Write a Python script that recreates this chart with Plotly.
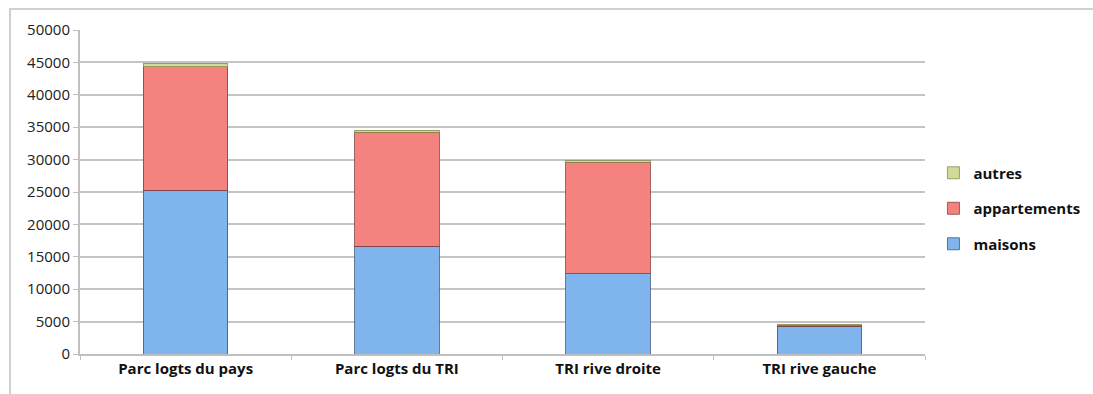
import plotly.graph_objects as go

# Housing stock by territory, split by dwelling type
categories = ["Parc logts du pays", "Parc logts du TRI", "TRI rive droite", "TRI rive gauche"]
maisons = [25300, 16600, 12400, 4300]
appartements = [19000, 17600, 17200, 100]
autres = [600, 300, 250, 200]

FONT = "Open Sans"

fig = go.Figure()
fig.add_trace(go.Bar(
    x=categories, y=maisons, name="maisons", legendgroup="maisons", legendrank=3,
    marker=dict(color="#80b4ec", line=dict(color="rgba(60,90,130,0.8)", width=1)),
))
fig.add_trace(go.Bar(
    x=categories, y=appartements, name="appartements", legendgroup="appartements", legendrank=2,
    marker=dict(color="#f4837f", line=dict(color="rgba(140,60,60,0.8)", width=1)),
))
fig.add_trace(go.Bar(
    x=categories, y=autres, name="autres", legendgroup="autres", legendrank=1,
    marker=dict(color="#d3d99a", line=dict(color="rgba(140,140,80,0.8)", width=1)),
))

fig.update_layout(
    width=1093, height=394,
    barmode="stack", bargap=0.6,
    margin=dict(l=80, r=168, t=30, b=40, autoexpand=False),
    paper_bgcolor="white", plot_bgcolor="white",
    font=dict(family=FONT, size=13, color="#222"),
    showlegend=True,
    legend=dict(
        traceorder="grouped", x=1.01, y=0.449, xanchor="left", yanchor="middle",
        font=dict(family=FONT, size=15, color="#111", weight="bold"),
        itemwidth=30, tracegroupgap=13,
    ),
    xaxis=dict(
        showline=True, linecolor="#bfbfbf", linewidth=2,
        ticks="outside", ticklen=4, tickcolor="#bfbfbf", tickson="boundaries",
        tickfont=dict(family=FONT, size=15, color="#111", weight="bold"),
        showgrid=False,
    ),
    yaxis=dict(
        range=[0, 50000], dtick=5000, tickformat="d",
        showline=True, linecolor="#bfbfbf", linewidth=2,
        ticks="outside", ticklen=5, tickcolor="#bfbfbf",
        showgrid=True, gridcolor="#c4c4c4", gridwidth=2,
        zeroline=False,
        tickfont=dict(family=FONT, size=15, color="#222"),
    ),
    shapes=[dict(
        type="rect", xref="paper", yref="paper",
        x0=-70 / 845, x1=1.24, y0=-0.2, y1=1 + 21 / 324,
        line=dict(color="#d0d0d0", width=2), fillcolor="rgba(0,0,0,0)", layer="below",
    )],
)

fig.write_html("out.html")
